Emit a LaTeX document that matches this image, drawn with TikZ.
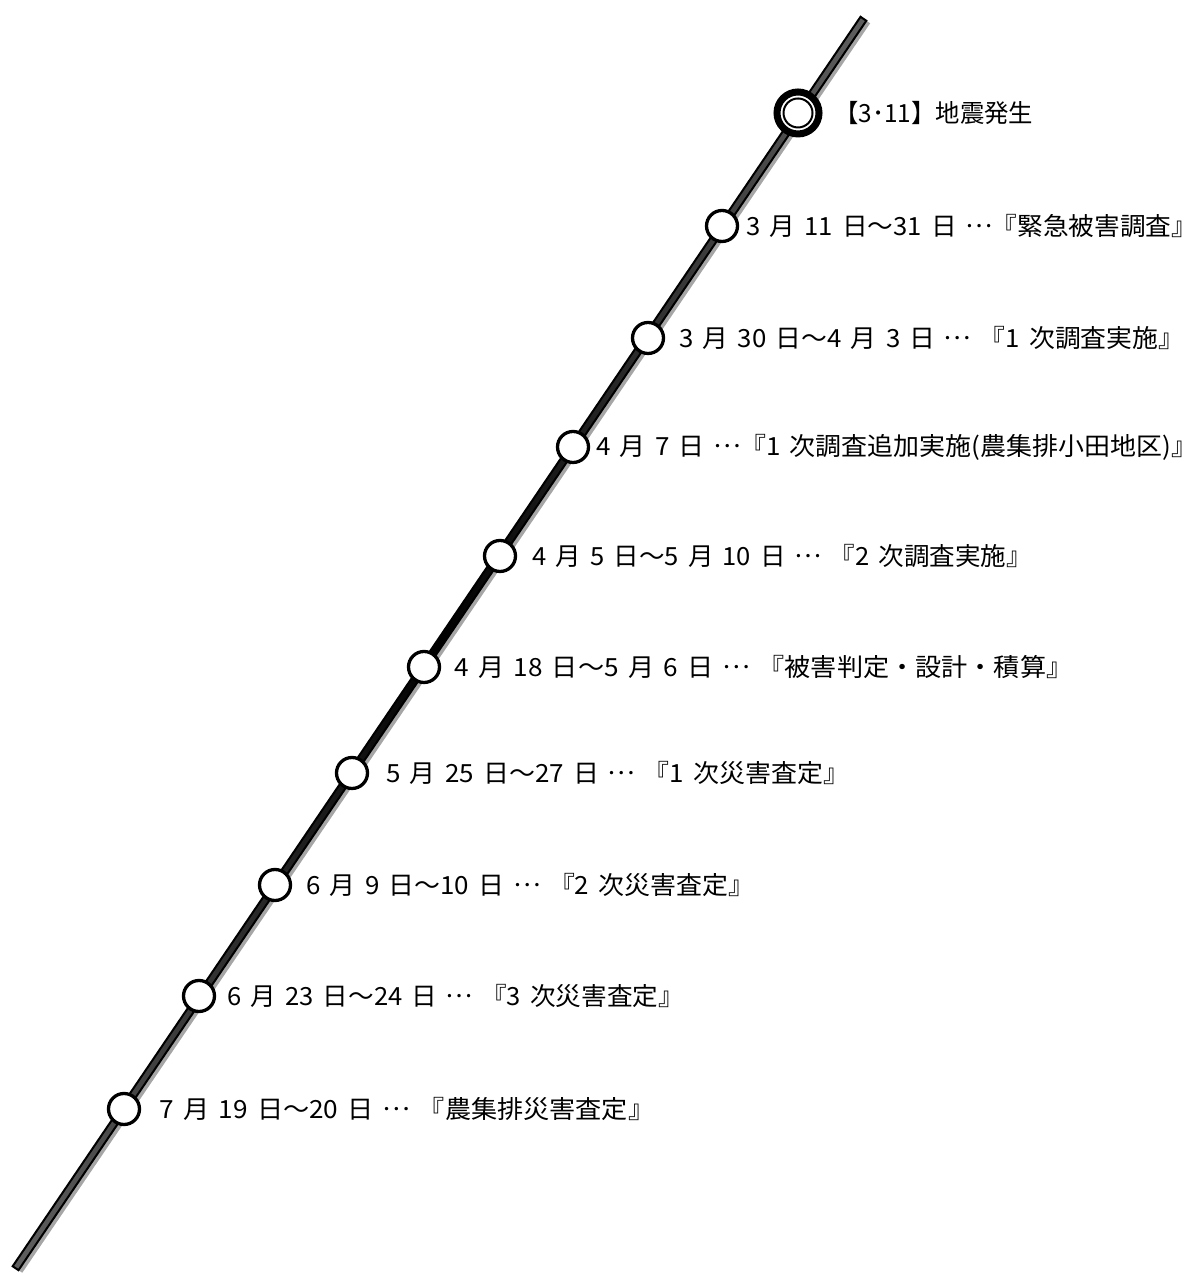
\documentclass[tikz,border=0pt]{standalone}
\usepackage{fontspec}
\usepackage{graphicx}
\newfontfamily\jp[WordSpace=1.6]{Noto Sans CJK JP}
\definecolor{bargray}{HTML}{606060}
\definecolor{shadowgray}{HTML}{A6A6A6}
\tikzset{
  barbase/.style={rectangle, rotate=55.84, minimum width=1510pt, inner sep=0pt, outer sep=0pt},
  shadowbar/.style={barbase, minimum height=9pt, fill=shadowgray},
  mainbar/.style={barbase, minimum height=7pt, draw=black, line width=2pt,
    left color=bargray, right color=bargray, middle color=black},
  dot/.style={circle, draw=black, line width=3.3pt, fill=white, minimum size=31pt, inner sep=0pt},
  bigdot/.style={circle, draw=black, line width=7pt, fill=white, minimum size=42pt, inner sep=0pt},
  innerdot/.style={circle, draw=black, line width=2pt, minimum size=29pt, inner sep=0pt},
  lab/.style={anchor=west, inner sep=0pt, font=\jp\fontsize{25}{29}\selectfont, text=black}
}
\newcommand{\lbl}[2]{\resizebox{#1}{\height}{#2}}
\newcommand{\jdots}{\makebox[1em]{\raisebox{0.3em}{…}}}
\newcommand{\jclose}{』\kern-0.5em}
\begin{document}
\begin{tikzpicture}[x=1pt,y=1pt]
\useasboundingbox (0,0) rectangle (1187,1273);
% timeline bar
\node[shadowbar] (barshadow) at (442.5,627.5) {};
\node[mainbar] (bar) at (439.5,629.5) {};
% event markers
\node[bigdot] (c0) at (798,1160) {};
\node[innerdot] (c0i) at (c0) {};
\node[dot] (c1) at (722,1047) {};
\node[dot] (c2) at (648,935) {};
\node[dot] (c3) at (573,826) {};
\node[dot] (c4) at (500,717) {};
\node[dot] (c5) at (424,606) {};
\node[dot] (c6) at (352,500) {};
\node[dot] (c7) at (275,388) {};
\node[dot] (c8) at (199,277) {};
\node[dot] (c9) at (124,164) {};
% labels
\node[lab] (t0) at (834,1160) {\lbl{199pt}{【3･11】地震発生}};
\node[lab] (t1) at (746,1047) {\lbl{438pt}{3 月 11 日～31 日 \jdots『緊急被害調査\jclose}};
\node[lab] (t2) at (679,935) {\lbl{492pt}{3 月 30 日～4 月 3 日 \jdots\ 『1 次調査実施\jclose}};
\node[lab] (t3) at (596,826) {\lbl{588pt}{4 月 7 日 \jdots『1 次調査追加実施(農集排小田地区)\jclose}};
\node[lab] (t4) at (532,717) {\lbl{487pt}{4 月 5 日～5 月 10 日 \jdots\ 『2 次調査実施\jclose}};
\node[lab] (t5) at (454,606) {\lbl{605pt}{4 月 18 日～5 月 6 日 \jdots\ 『被害判定・設計・積算\jclose}};
\node[lab] (t6) at (386,500) {\lbl{450pt}{5 月 25 日～27 日 \jdots\ 『1 次災害査定\jclose}};
\node[lab] (t7) at (306,388) {\lbl{435pt}{6 月 9 日～10 日 \jdots\ 『2 次災害査定\jclose}};
\node[lab] (t8) at (227,277) {\lbl{444pt}{6 月 23 日～24 日 \jdots\ 『3 次災害査定\jclose}};
\node[lab] (t9) at (159,164) {\lbl{482pt}{7 月 19 日～20 日 \jdots\ 『農集排災害査定\jclose}};
\end{tikzpicture}
\end{document}
